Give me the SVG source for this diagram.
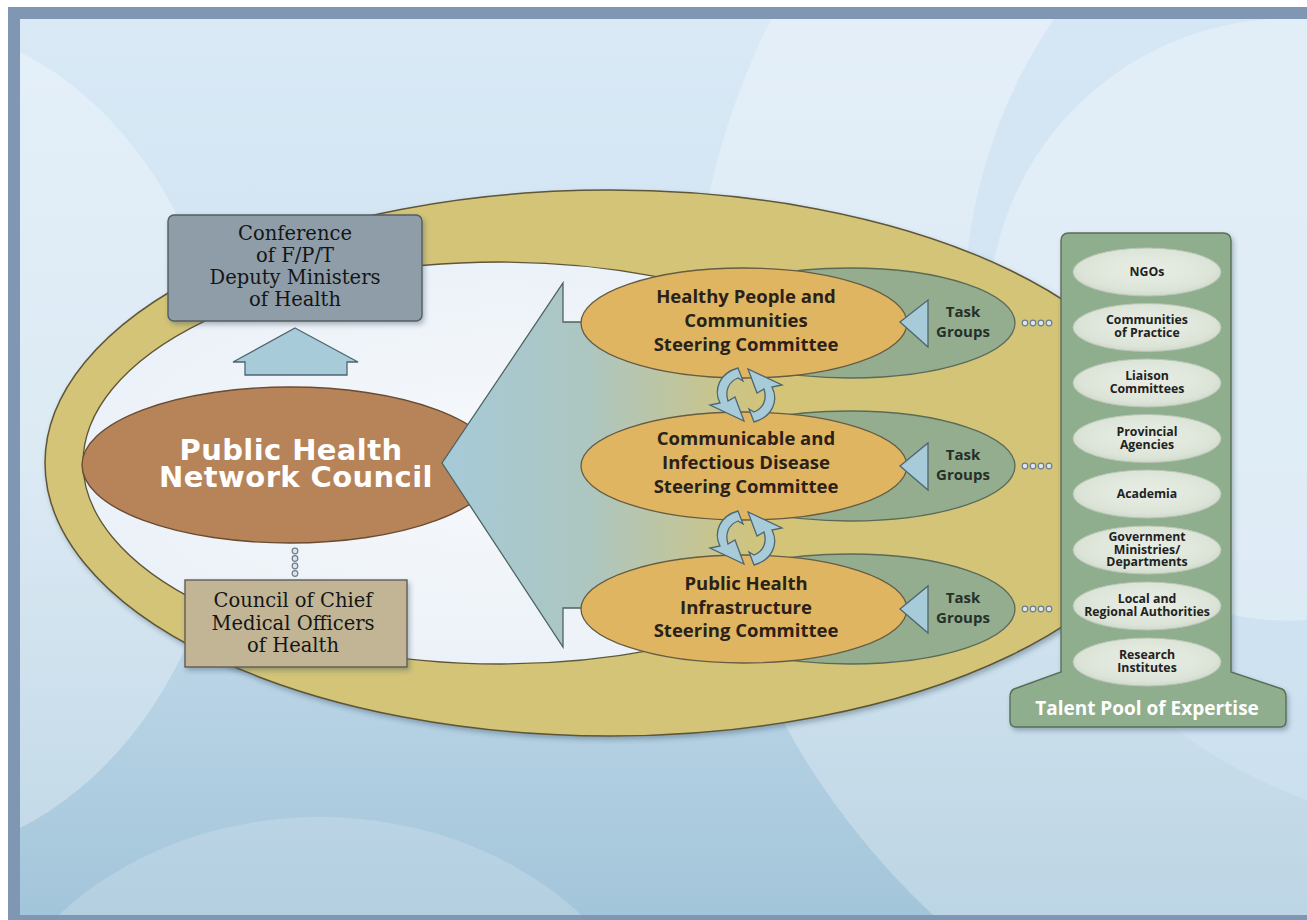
<svg xmlns="http://www.w3.org/2000/svg" width="1307" height="920" viewBox="0 0 1307 920">
<defs>
<style>
.serif{font-family:"DejaVu Serif","Liberation Serif",serif;font-size:19.5px;fill:#151515;text-anchor:middle}
.cm{font-family:"Open Sans","DejaVu Sans",sans-serif;font-weight:bold;font-size:18.5px;fill:#2a2118;text-anchor:middle}
.tg{font-family:"Open Sans","DejaVu Sans",sans-serif;font-weight:bold;font-size:15px;fill:#26302a;text-anchor:middle}
.tp{font-family:"Open Sans","DejaVu Sans",sans-serif;font-weight:bold;font-size:12.3px;fill:#222;text-anchor:middle}
.blue{fill:#a7cbd8;stroke:#4e6670;stroke-width:1.3}
.dot{fill:#dde4ea;stroke:#6c7e8e;stroke-width:1.2}
.tel{fill:url(#gTel);stroke:#b9c6b6;stroke-width:1}
</style>
<linearGradient id="gBg" x1="0" y1="0" x2="0" y2="1">
<stop offset="0" stop-color="#d9e9f6"/>
<stop offset="0.5" stop-color="#cde1f0"/>
<stop offset="1" stop-color="#a3c5da"/>
</linearGradient>
<linearGradient id="gArrow" gradientUnits="userSpaceOnUse" x1="442" y1="0" x2="770" y2="0">
<stop offset="0" stop-color="#a5cad9"/>
<stop offset="0.45" stop-color="#adc6c0"/>
<stop offset="1" stop-color="#d3c478"/>
</linearGradient>
<radialGradient id="gTel" cx="0.5" cy="0.45" r="0.6">
<stop offset="0" stop-color="#e9eee5"/>
<stop offset="0.75" stop-color="#dce4d8"/>
<stop offset="1" stop-color="#c9d4c5"/>
</radialGradient>
<radialGradient id="gInner" cx="0.5" cy="0.5" r="0.6">
<stop offset="0" stop-color="#f7f9fc"/>
<stop offset="1" stop-color="#e9f0f7"/>
</radialGradient>
<filter id="sh" x="-10%" y="-10%" width="125%" height="130%">
<feDropShadow dx="2" dy="3" stdDeviation="2.5" flood-color="#2f4256" flood-opacity="0.35"/>
</filter>
<path id="rot" d="M -8,-27 C -26,-22 -33,-6 -26,8 L -36,10 L -2,26 L -11,2 L -18,6 C -21,-4 -18,-13 -8,-17 L -3,-14 Z"/>
</defs>

<!-- background -->
<g id="background">
<rect x="0" y="0" width="1307" height="920" fill="#ffffff"/>
<rect x="20" y="19" width="1287" height="896" fill="url(#gBg)"/>
<ellipse cx="-110" cy="440" rx="340" ry="420" fill="#ffffff" fill-opacity="0.3"/>
<path d="M 771,19 A 760 760 0 0 0 933,915 L 1307,915 L 1307,19 Z" fill="#ffffff" fill-opacity="0.28"/>
<path d="M 1054,19 A 520 520 0 0 0 1307,800 L 1307,19 Z" fill="#cfe2f2" fill-opacity="0.7"/>
<path d="M 1271,19 A 300 300 0 0 0 1307,620 L 1307,19 Z" fill="#ffffff" fill-opacity="0.3"/>
<ellipse cx="320" cy="1110" rx="350" ry="293" fill="#ffffff" fill-opacity="0.18"/>
</g>

<!-- frame -->
<g id="frame" fill="#7f97b2">
<rect x="8" y="7" width="1299" height="12"/>
<rect x="8" y="7" width="12" height="913"/>
<rect x="8" y="915" width="1299" height="5"/>
</g>

<!-- gold ring -->
<g id="ring">
<ellipse cx="610" cy="463" rx="565" ry="273" fill="#d3c478" stroke="#5e5638" stroke-width="1.5" filter="url(#sh)"/>
<ellipse cx="500" cy="463" rx="417" ry="201" fill="url(#gInner)" stroke="#5e5638" stroke-width="1.3"/>
</g>

<!-- talent pool -->
<g id="talent-pool">
<path d="M 1061,672 L 1061,241 Q 1061,233 1069,233 L 1223,233 Q 1231,233 1231,241 L 1231,672 L 1282,689 Q 1286,691 1286,697 L 1286,721 Q 1286,727 1280,727 L 1016,727 Q 1010,727 1010,721 L 1010,697 Q 1010,691 1014,689 Z" fill="#8fae8d" stroke="#5b6d59" stroke-width="1.4" filter="url(#sh)"/>
<text x="1147" y="715" font-family="Open Sans, DejaVu Sans, sans-serif" font-weight="bold" font-size="19" fill="#ffffff" text-anchor="middle">Talent Pool of Expertise</text>
</g>
<g id="tp-ngos"><ellipse class="tel" cx="1147" cy="272" rx="74" ry="24"/><text class="tp" x="1147" y="276">NGOs</text></g>
<g id="tp-cop"><ellipse class="tel" cx="1147" cy="327.5" rx="74" ry="24"/><text class="tp" x="1147" y="324">Communities</text><text class="tp" x="1147" y="337">of Practice</text></g>
<g id="tp-liaison"><ellipse class="tel" cx="1147" cy="383" rx="74" ry="24"/><text class="tp" x="1147" y="380">Liaison</text><text class="tp" x="1147" y="393">Committees</text></g>
<g id="tp-prov"><ellipse class="tel" cx="1147" cy="438.5" rx="74" ry="24"/><text class="tp" x="1147" y="435.5">Provincial</text><text class="tp" x="1147" y="448.5">Agencies</text></g>
<g id="tp-academia"><ellipse class="tel" cx="1147" cy="494" rx="74" ry="24"/><text class="tp" x="1147" y="498">Academia</text></g>
<g id="tp-gov"><ellipse class="tel" cx="1147" cy="550" rx="74" ry="24"/><text class="tp" x="1147" y="541">Government</text><text class="tp" x="1147" y="553.5">Ministries/</text><text class="tp" x="1147" y="566">Departments</text></g>
<g id="tp-local"><ellipse class="tel" cx="1147" cy="606" rx="74" ry="24"/><text class="tp" x="1147" y="602.5">Local and</text><text class="tp" x="1147" y="615.5">Regional Authorities</text></g>
<g id="tp-research"><ellipse class="tel" cx="1147" cy="662" rx="74" ry="24"/><text class="tp" x="1147" y="658.5">Research</text><text class="tp" x="1147" y="671.5">Institutes</text></g>

<!-- Conference -->
<g id="conference">
<rect x="168" y="215" width="254" height="106" rx="6" fill="#8e9da8" stroke="#555c62" stroke-width="1.4" filter="url(#sh)"/>
<text class="serif" x="295" y="240">Conference</text>
<text class="serif" x="295" y="262">of F/P/T</text>
<text class="serif" x="295" y="284">Deputy Ministers</text>
<text class="serif" x="295" y="306">of Health</text>
</g>

<!-- Council -->
<g id="council">
<ellipse cx="290" cy="465" rx="208" ry="78" fill="#b7845a" stroke="#6a4c33" stroke-width="1.4"/>
<text x="291" y="460" font-family="DejaVu Sans, sans-serif" font-weight="bold" font-size="29" letter-spacing="0.4" fill="#ffffff" text-anchor="middle">Public Health</text>
<text x="296" y="487" font-family="DejaVu Sans, sans-serif" font-weight="bold" font-size="29" letter-spacing="0.4" fill="#ffffff" text-anchor="middle">Network Council</text>
</g>

<!-- Council of Chief Medical Officers -->
<g id="ccmoh">
<rect x="185" y="580" width="222" height="87" fill="#c1b596" stroke="#625c52" stroke-width="1.4" filter="url(#sh)"/>
<text class="serif" x="293" y="607">Council of Chief</text>
<text class="serif" x="293" y="629.5">Medical Officers</text>
<text class="serif" x="293" y="652">of Health</text>
</g>

<!-- connectors -->
<g id="connectors">
<polygon class="blue" points="295,328 358,362 347,362 347,375 245,375 245,362 233,362"/>
<g>
<circle class="dot" cx="295" cy="551" r="2.8"/>
<circle class="dot" cx="295" cy="558.5" r="2.8"/>
<circle class="dot" cx="295" cy="566" r="2.8"/>
<circle class="dot" cx="295" cy="573.5" r="2.8"/>
</g>
<polygon points="442,463 563,283 563,322 965,322 965,608 563,608 563,647" fill="url(#gArrow)"/>
<polyline points="600,322 563,322 563,283 442,463 563,647 563,608 600,608" fill="none" stroke="#4f625f" stroke-width="1.3"/>
<g>
<circle class="dot" cx="1025" cy="323" r="2.8"/><circle class="dot" cx="1033" cy="323" r="2.8"/><circle class="dot" cx="1041" cy="323" r="2.8"/><circle class="dot" cx="1049" cy="323" r="2.8"/>
<circle class="dot" cx="1025" cy="466" r="2.8"/><circle class="dot" cx="1033" cy="466" r="2.8"/><circle class="dot" cx="1041" cy="466" r="2.8"/><circle class="dot" cx="1049" cy="466" r="2.8"/>
<circle class="dot" cx="1025" cy="609" r="2.8"/><circle class="dot" cx="1033" cy="609" r="2.8"/><circle class="dot" cx="1041" cy="609" r="2.8"/><circle class="dot" cx="1049" cy="609" r="2.8"/>
</g>
</g>

<!-- Committees -->
<g id="hpc">
<ellipse cx="850" cy="323" rx="165" ry="55" fill="#93ad8e" stroke="#5b6a57" stroke-width="1.3"/>
<ellipse cx="744" cy="323" rx="163" ry="55" fill="#dfb561" stroke="#665c43" stroke-width="1.3"/>
<polygon class="blue" points="900,322 928,300 928,347"/>
<text class="tg" x="963" y="317">Task</text>
<text class="tg" x="963" y="337">Groups</text>
<text class="cm" x="746" y="303">Healthy People and</text>
<text class="cm" x="746" y="327">Communities</text>
<text class="cm" x="746" y="351">Steering Committee</text>
</g>
<g id="cid">
<ellipse cx="850" cy="466" rx="165" ry="55" fill="#93ad8e" stroke="#5b6a57" stroke-width="1.3"/>
<ellipse cx="744" cy="466" rx="163" ry="54" fill="#dfb561" stroke="#665c43" stroke-width="1.3"/>
<polygon class="blue" points="900,466 928,443 928,490"/>
<text class="tg" x="963" y="460">Task</text>
<text class="tg" x="963" y="480">Groups</text>
<text class="cm" x="746" y="445">Communicable and</text>
<text class="cm" x="746" y="469">Infectious Disease</text>
<text class="cm" x="746" y="493">Steering Committee</text>
</g>
<g id="phi">
<ellipse cx="850" cy="609" rx="165" ry="55" fill="#93ad8e" stroke="#5b6a57" stroke-width="1.3"/>
<ellipse cx="744" cy="609" rx="163" ry="54" fill="#dfb561" stroke="#665c43" stroke-width="1.3"/>
<polygon class="blue" points="900,609 928,586 928,633"/>
<text class="tg" x="963" y="603">Task</text>
<text class="tg" x="963" y="623">Groups</text>
<text class="cm" x="746" y="590">Public Health</text>
<text class="cm" x="746" y="613.5">Infrastructure</text>
<text class="cm" x="746" y="637">Steering Committee</text>
</g>

<!-- rotating arrows between committees -->
<g id="cycle-arrows" class="blue">
<use href="#rot" transform="translate(746,395)"/>
<use href="#rot" transform="translate(746,395) rotate(180)"/>
<use href="#rot" transform="translate(746,538)"/>
<use href="#rot" transform="translate(746,538) rotate(180)"/>
</g>
</svg>
